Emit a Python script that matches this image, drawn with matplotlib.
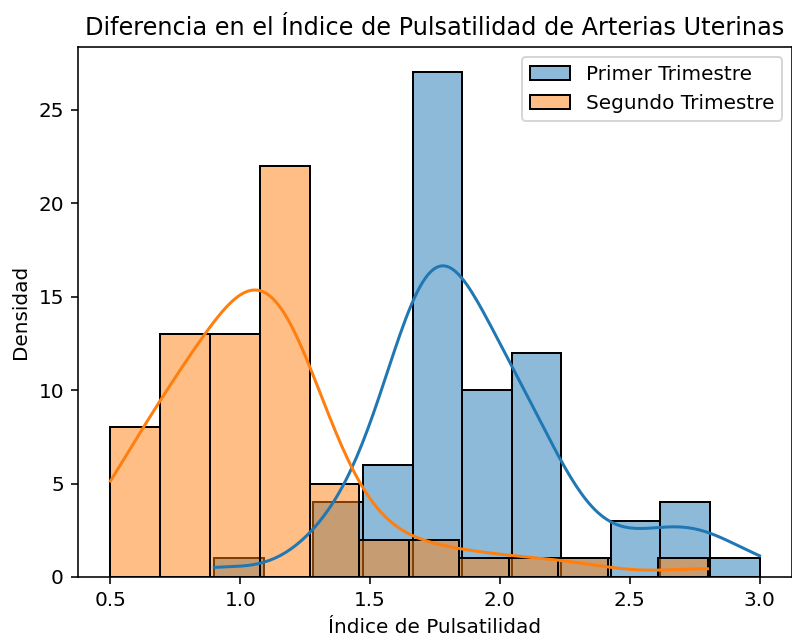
import matplotlib
matplotlib.use("Agg")
import matplotlib.pyplot as plt
import seaborn as sns

title = "Diferencia en el Índice de Pulsatilidad de Arterias Uterinas"
xlabel = "Índice de Pulsatilidad"
ylabel = "Densidad"
labels = ["Primer Trimestre", "Segundo Trimestre"]

# Primer trimestre (estimated individual values, 69 obs)
primer = [0.90,
          1.30, 1.34, 1.38, 1.44,
          1.48, 1.52, 1.56, 1.59, 1.62, 1.65,
          1.665, 1.67, 1.67, 1.68, 1.68, 1.69, 1.69, 1.70, 1.70, 1.71, 1.72, 1.72,
          1.73, 1.74, 1.74, 1.75, 1.76, 1.77, 1.78, 1.79, 1.80, 1.81, 1.82, 1.83,
          1.84, 1.85, 1.85,
          1.86, 1.87, 1.88, 1.90, 1.92, 1.94, 1.96, 1.99, 2.01, 2.04,
          2.05, 2.06, 2.07, 2.08, 2.09, 2.10, 2.12, 2.14, 2.16, 2.18, 2.20, 2.23,
          2.32,
          2.46, 2.53, 2.60,
          2.70, 2.75, 2.78, 2.80,
          3.00]

# Segundo trimestre (estimated individual values, 69 obs)
segundo = [0.50, 0.50, 0.51, 0.53, 0.55, 0.58, 0.62, 0.66,
           0.70, 0.71, 0.72, 0.73, 0.74, 0.76, 0.77, 0.79, 0.80, 0.82, 0.84, 0.86, 0.88,
           0.89, 0.90, 0.91, 0.93, 0.94, 0.96, 0.97, 0.99, 1.00, 1.02, 1.03, 1.05, 1.06,
           1.08, 1.08, 1.09, 1.09, 1.10, 1.10, 1.11, 1.11, 1.12, 1.13, 1.13, 1.14,
           1.15, 1.16, 1.17, 1.18, 1.19, 1.20, 1.21, 1.22, 1.24, 1.26,
           1.28, 1.30, 1.33, 1.37, 1.42,
           1.50, 1.60,
           1.70, 1.80,
           1.95,
           2.12,
           2.32,
           2.80]

fig = plt.figure(figsize=(792/144, 636/144), dpi=144)
ax = fig.add_axes([78/792, 59/636, 714/792, 530/636])

sns.histplot(primer, bins=11, kde=True, color="C0", alpha=0.5, label=labels[0], ax=ax)
sns.histplot(segundo, bins=12, kde=True, color="C1", alpha=0.5, label=labels[1], ax=ax)

ax.set_title(title)
ax.set_xlabel(xlabel)
ax.set_ylabel(ylabel)
ax.legend()

fig.savefig("out.png", dpi=144)
